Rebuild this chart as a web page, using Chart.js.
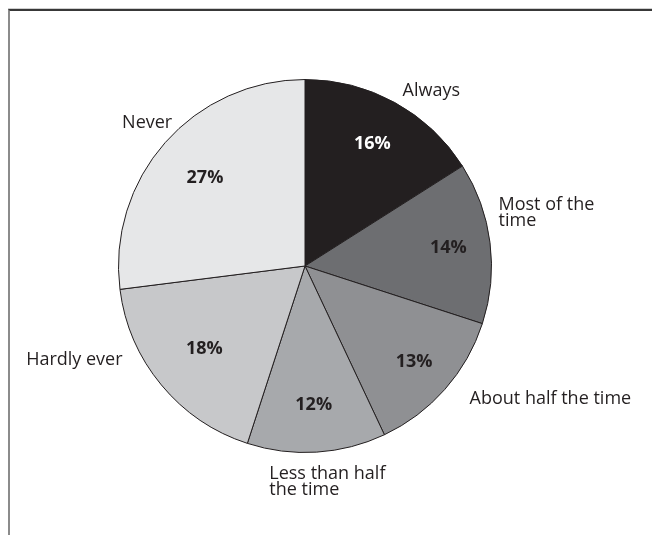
<!DOCTYPE html>
<html>
<head>
<meta charset="utf-8">
<script src="https://cdn.jsdelivr.net/npm/chart.js@4/dist/chart.umd.min.js"></script>
<style>
  html, body { margin: 0; padding: 0; background: #fff; }
  #wrap { position: relative; width: 652px; height: 535px; overflow: hidden; }
  #frame {
    position: absolute; left: 8px; top: 9px; right: -6px; bottom: -6px;
    border-top: 2px solid #383838; border-left: 2px solid #8b8b8b;
    box-shadow: 0 -1px 0 #cfcfcf;
  }
  canvas { position: absolute; left: 0; top: 0; }
</style>
</head>
<body>
<div id="wrap">
  <div id="frame"></div>
  <canvas id="chart" width="652" height="535"></canvas>
</div>
<script>
// Answer categories (multi-line names are split into lines)
const categories = [
  'Always',
  ['Most of the', 'time'],
  'About half the time',
  ['Less than half', 'the time'],
  'Hardly ever',
  'Never'
];
// Share of respondents, percent
const shares = [16, 14, 13, 12, 18, 27];
// Slice fills, dark to light
const sliceColors = ['#231f20', '#6d6e71', '#8f9093', '#a7a9ac', '#c7c8ca', '#e6e7e8'];
// Colour of the percentage printed inside each slice
const valueColors = ['#ffffff', '#231f20', '#231f20', '#231f20', '#231f20', '#231f20'];

// Where each text sits: value labels as a fraction of the radius along the slice middle,
// category names by angle (degrees clockwise from 12 o'clock) and radius factor.
const valueRadius = [0.75, 0.775, 0.78, 0.745, 0.70, 0.715];
const namePlacement = [
  { angle: 29.8,  radius: 1.053, align: 'left'  },
  { angle: 73.9,  radius: 1.080, align: 'left'  },
  { angle: 129.9, radius: 1.150, align: 'left'  },
  { angle: 189.5, radius: 1.160, align: 'left'  },
  { angle: 241.6, radius: 1.112, align: 'right' },
  { angle: 316.0, radius: 1.025, align: 'right' }
];

const FONT = '"Open Sans", "Noto Sans", sans-serif';

const sliceText = {
  id: 'sliceText',
  afterDatasetsDraw(chart, args, opts) {
    const ctx = chart.ctx;
    const meta = chart.getDatasetMeta(0);
    const data = chart.data.datasets[0].data;
    meta.data.forEach((arc, i) => {
      const p = arc.getProps(['x', 'y', 'startAngle', 'endAngle', 'outerRadius'], true);
      const mid = (p.startAngle + p.endAngle) / 2;
      const rv = p.outerRadius * opts.valueRadius[i];
      ctx.save();
      ctx.font = 'bold 18px ' + FONT;
      ctx.fillStyle = opts.valueColors[i];
      ctx.textAlign = 'center';
      ctx.textBaseline = 'middle';
      ctx.fillText(data[i] + '%', p.x + Math.cos(mid) * rv, p.y + Math.sin(mid) * rv);

      const np = opts.namePlacement[i];
      const a = (np.angle - 90) * Math.PI / 180;
      const rn = p.outerRadius * np.radius;
      ctx.font = '18px ' + FONT;
      ctx.fillStyle = '#231f20';
      ctx.textAlign = np.align;
      ctx.textBaseline = 'alphabetic';
      const lines = [].concat(chart.data.labels[i]);
      lines.forEach((ln, k) => {
        ctx.fillText(ln, p.x + Math.cos(a) * rn, p.y + Math.sin(a) * rn + k * 16);
      });
      ctx.restore();
    });
  }
};

function draw() {
  new Chart(document.getElementById('chart'), {
    type: 'pie',
    data: {
      labels: categories,
      datasets: [{
        data: shares,
        backgroundColor: sliceColors,
        borderColor: '#231f20',
        borderWidth: 1,
        hoverOffset: 0
      }]
    },
    options: {
      responsive: false,
      animation: false,
      layout: { padding: { left: 118, right: 160, top: 79, bottom: 82 } },
      plugins: {
        legend: { display: false },
        tooltip: { enabled: false },
        sliceText: { valueRadius, valueColors, namePlacement }
      }
    },
    plugins: [sliceText]
  });
}

Promise.all([
  document.fonts.load('18px "Open Sans"'),
  document.fonts.load('bold 18px "Open Sans"')
]).then(draw, draw);
</script>
</body>
</html>
